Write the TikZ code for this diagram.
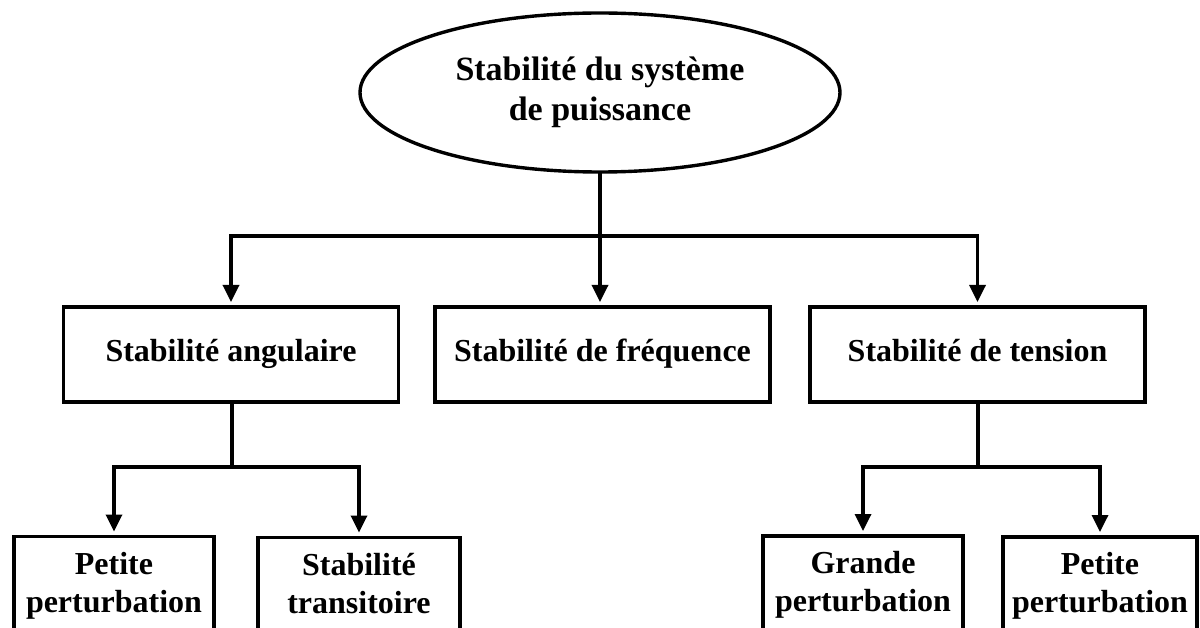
\documentclass[tikz,border=0pt]{standalone}
\usepackage{fontspec}
\setmainfont{Liberation Serif}
\usetikzlibrary{arrows.meta,shapes.geometric}
\newcommand\tstrut{\rule[-9pt]{0pt}{29pt}}
\begin{document}
\begin{tikzpicture}[x=1pt,y=-1pt,
  every node/.style={inner sep=0pt,outer sep=0pt},
  box/.style={draw,line width=3.4pt,rectangle,align=center,
    font=\bfseries\fontsize{32}{38}\selectfont},
  rootnode/.style={draw,line width=3.4pt,ellipse,align=center,
    font=\bfseries\fontsize{34}{40}\selectfont},
  conn/.style={line width=3.4pt},
  arr/.style={line width=3.4pt,-{Triangle[length=17pt,width=16pt]},shorten >=5pt}]
\useasboundingbox (0,0) rectangle (1200,628);
\clip (0,0) rectangle (1200,628);
% nodes
\node[rootnode,minimum width=480,minimum height=159] (root) at (600,92.5)
  {Stabilité du système\\de puissance};
\node[box,minimum width=335,minimum height=95] (ang) at (231,354.5) {\tstrut Stabilité angulaire};
\node[box,minimum width=335,minimum height=95] (freq) at (602.5,354.5) {\tstrut Stabilité de fréquence};
\node[box,minimum width=335,minimum height=95] (tens) at (977.5,354.5) {\tstrut Stabilité de tension};
\node[box,minimum width=200,minimum height=100] (pp1) at (114,586.5) {\tstrut Petite\\\tstrut perturbation};
\node[box,minimum width=202,minimum height=100] (trans) at (359,587.5) {\tstrut Stabilité\\\tstrut transitoire};
\node[box,minimum width=200,minimum height=100] (gp) at (863,586) {\tstrut Grande\\\tstrut perturbation};
\node[box,minimum width=194,minimum height=100] (pp2) at (1100,587) {\tstrut Petite\\\tstrut perturbation};
% junctions
\coordinate (j1) at (600,236);
\coordinate (j2) at (232,467);
\coordinate (j3) at (978,467);
% connectors
\draw[conn] (root.south) -- (j1);
\draw[arr] (j1) -| (ang.north);
\draw[arr] (j1) -- (j1 |- freq.north);
\draw[arr] (j1) -| (tens.north);
\draw[conn] (ang.south -| j2) -- (j2);
\draw[arr] (j2) -| (pp1.north);
\draw[arr] (j2) -| (trans.north);
\draw[conn] (tens.south -| j3) -- (j3);
\draw[arr] (j3) -| (gp.north);
\draw[arr] (j3) -| (pp2.north);
\end{tikzpicture}
\end{document}
